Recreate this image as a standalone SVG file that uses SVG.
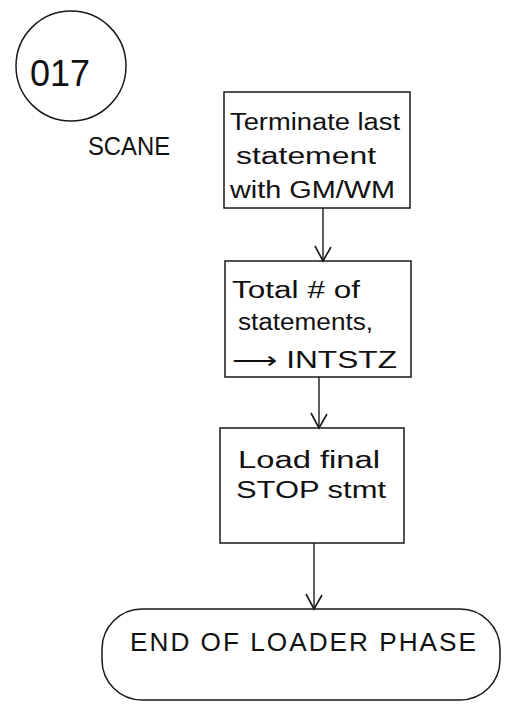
<svg xmlns="http://www.w3.org/2000/svg" width="522" height="704" viewBox="0 0 522 704">
<defs>
<style>
.shape{fill:none;stroke:#1a1a1a;stroke-width:1.5}
.t{font-family:"Liberation Sans",Arial,sans-serif;font-size:23px;fill:#111}
.big{font-size:36px}
.lbl{font-size:26px}
.term{font-size:26px;letter-spacing:2px}
.c{stroke:#1a1a1a;stroke-width:1.4;fill:none}
</style>
<marker id="v" viewBox="0 0 20 20" refX="18" refY="10" markerWidth="20" markerHeight="20" markerUnits="userSpaceOnUse" orient="auto">
<path d="M4 2 L18 10 L3 18" fill="none" stroke="#1a1a1a" stroke-width="1.6"/>
</marker>
</defs>
<rect width="522" height="704" fill="#fff"/>
<g id="page-ref">
<circle class="shape" cx="71" cy="66" r="55"/>
<text class="t big" x="60" y="86" text-anchor="middle">017</text>
<text class="t lbl" x="88" y="155" textLength="82" lengthAdjust="spacingAndGlyphs">SCANE</text>
</g>
<g id="connectors">
<line class="c" x1="323" y1="208" x2="323" y2="261" marker-end="url(#v)"/>
<line class="c" x1="319" y1="377" x2="319" y2="428" marker-end="url(#v)"/>
<line class="c" x1="314" y1="543" x2="314" y2="609" marker-end="url(#v)"/>
</g>
<g id="n1">
<rect class="shape" x="224" y="92" width="186" height="116"/>
<text class="t" x="230" y="130" textLength="170" lengthAdjust="spacingAndGlyphs">Terminate last</text>
<text class="t" x="236" y="164" textLength="140" lengthAdjust="spacingAndGlyphs">statement</text>
<text class="t" x="230" y="198" textLength="165" lengthAdjust="spacingAndGlyphs">with GM/WM</text>
</g>
<g id="n2">
<rect class="shape" x="225" y="261" width="186" height="116"/>
<text class="t" x="232" y="298" textLength="128" lengthAdjust="spacingAndGlyphs">Total # of</text>
<text class="t" x="238" y="330" textLength="135" lengthAdjust="spacingAndGlyphs">statements,</text>
<text class="t" x="232" y="368" textLength="165" lengthAdjust="spacingAndGlyphs">⟶ INTSTZ</text>
</g>
<g id="n3">
<rect class="shape" x="220" y="428" width="184" height="115"/>
<text class="t" x="238" y="468" textLength="142" lengthAdjust="spacingAndGlyphs">Load final</text>
<text class="t" x="236" y="498" textLength="150" lengthAdjust="spacingAndGlyphs">STOP stmt</text>
</g>
<g id="n4">
<rect class="shape" x="102" y="609" width="398" height="91" rx="40" ry="40"/>
<text class="t term" x="130" y="651" textLength="348" lengthAdjust="spacingAndGlyphs">END OF LOADER PHASE</text>
</g>
</svg>
